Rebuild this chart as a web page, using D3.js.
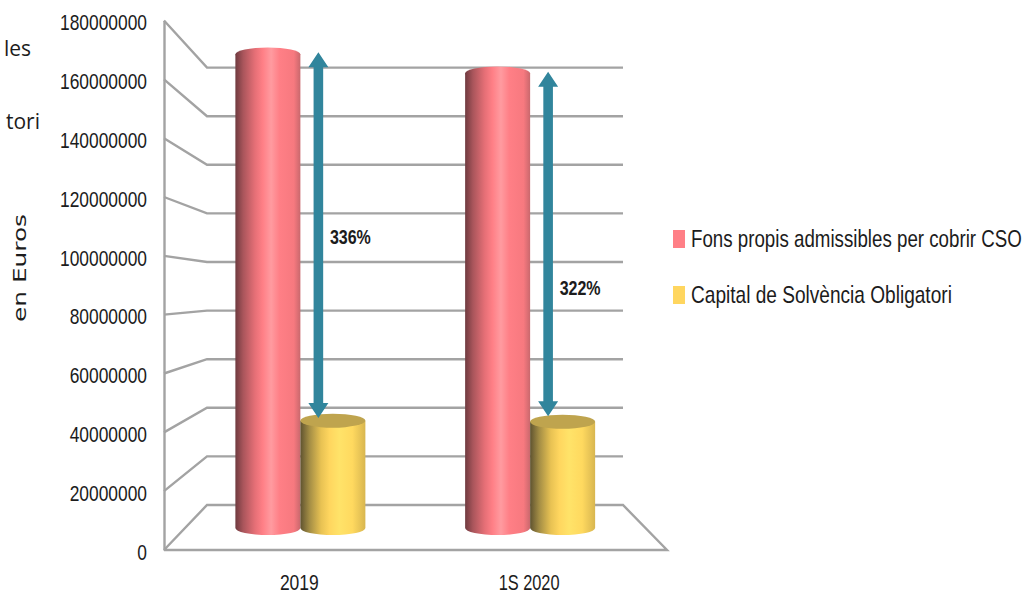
<!DOCTYPE html>
<html>
<head>
<meta charset="utf-8">
<script src="https://cdn.jsdelivr.net/npm/d3@7"></script>
<style>
	html, body { margin: 0; padding: 0; background: #fff; }
	svg { display: block; }
	text { font-family: "Liberation Sans", sans-serif; fill: #1c1c1c; }
</style>
</head>
<body>
<div id="chart"></div>
<script>
var categories = ["2019", "1S 2020"]
var seriesNames = ["Fons propis admissibles per cobrir CSO", "Capital de Solvència Obligatori"]
var fonsPropis = [176500000, 169400000]
var capitalSolvencia = [40000000, 39600000]
var yTicks = [0, 20000000, 40000000, 60000000, 80000000, 100000000, 120000000, 140000000, 160000000, 180000000]

// arrows between the two bars, and the ratio written next to them
var arrowTop = [177300000, 170000000]
var arrowBottom = [41000000, 41600000]
var ratioLabels = ["336%", "322%"]
var ratioAt = [108300000, 89300000]

var w = 1027,
	h = 594,
	cylCap = 7, //vertical radius of the cylinder ellipses
	gridColor = "#a3a3a3"

var svg = d3.select("#chart").append("svg").attr("width", w).attr("height", h)

// the 3d box: front edge of the floor, back wall, and the plane the bars stand in
var yFront = d3.scaleLinear().domain([0, 180000000]).range([550, 20.5])
var yBack = d3.scaleLinear().domain([0, 180000000]).range([505, 67.6])
var yMid = d3.scaleLinear().domain([0, 180000000]).range([528, 45])

var xFrontL = 164, xFrontR = 667, xBackL = 207, xBackR = 623

var xMid = d3.scaleBand().domain(categories).range([185.5, 645])
var xSeries = d3.scaleBand().domain(seriesNames).range([0, 130])
var barOffset = (xMid.bandwidth() - xSeries.range()[1]) / 2

var defs = svg.append("defs")

function cylGradient(id, stops) {
	var g = defs.append("linearGradient").attr("id", id)
	g.selectAll("stop")
		.data(stops)
		.enter()
		.append("stop")
		.attr("offset", function(d) { return d[0] })
		.attr("stop-color", function(d) { return d[1] })
}

cylGradient("redSide", [[0, "#6f3a3f"], [0.12, "#a9555b"], [0.3, "#e56f76"], [0.42, "#ff7f86"], [0.55, "#ff9ba0"], [0.68, "#ff7f86"], [0.9, "#f7797f"], [1, "#c9686d"]])
cylGradient("yellowSide", [[0, "#5f5330"], [0.14, "#a38d45"], [0.32, "#e8c253"], [0.45, "#ffd65f"], [0.6, "#ffe369"], [0.8, "#ffd95f"], [1, "#d8b650"]])

// squeeze a text to the width it has in the picture (no narrow font here)
function fitText(sel, x, y, width) {
	sel.attr("transform", "translate(" + x + "," + y + ")")
	var sx = width / sel.node().getComputedTextLength()
	sel.attr("transform", "translate(" + x + "," + y + ") scale(" + sx + ",1)")
}

// walls and floor
var grid = svg.append("g")
	.attr("fill", "none")
	.attr("stroke", gridColor)
	.attr("stroke-width", 2.4)

grid.selectAll(".wall")
	.data(yTicks.slice(1))
	.enter()
	.append("polyline")
	.attr("class", "wall")
	.attr("points", function(d) {
		return [[xFrontL, yFront(d)], [xBackL, yBack(d)], [xBackR, yBack(d)]].join(" ")
	})

// floor
grid.append("polyline")
	.attr("points", [[xFrontL, yFront(0)], [xBackL, yBack(0)], [xBackR, yBack(0)], [xFrontR, yFront(0)], [xFrontL, yFront(0)]].join(" "))

// y axis, the labels sit a bit under their tick
var yAxis = d3.axisLeft(yFront)
	.tickValues(yTicks)
	.tickFormat(d3.format("d"))
	.tickSize(0)
	.tickPadding(17)

var axisG = svg.append("g")
	.attr("transform", "translate(" + xFrontL + ",0)")
	.call(yAxis)
axisG.select(".domain").attr("stroke", gridColor).attr("stroke-width", 2.4)
axisG.selectAll("text")
	.attr("font-family", null)
	.attr("font-size", 22)
	.attr("dy", "0.42em")
	.attr("fill", "#1c1c1c")
	.attr("textLength", function(d) { return String(d).length * 9.67 })
	.attr("lengthAdjust", "spacingAndGlyphs")

// cylinders
function drawCylinder(x, value, fill, capFill) {
	var rx = xSeries.bandwidth() / 2,
		top = yMid(value),
		bottom = yMid(0)
	svg.append("path")
		.attr("d", "M" + x + "," + top +
			"V" + bottom +
			"A" + rx + "," + cylCap + " 0 0 0 " + (x + 2 * rx) + "," + bottom +
			"V" + top + "Z")
		.attr("fill", fill)
	svg.append("ellipse")
		.attr("cx", x + rx)
		.attr("cy", top)
		.attr("rx", rx)
		.attr("ry", cylCap)
		.attr("fill", capFill)
}

categories.forEach(function(c, i) {
	var x0 = xMid(c) + barOffset
	drawCylinder(x0 + xSeries(seriesNames[0]), fonsPropis[i], "url(#redSide)", "url(#redSide)")
	drawCylinder(x0 + xSeries(seriesNames[1]), capitalSolvencia[i], "url(#yellowSide)", "#bfa44e")
})

// double arrows
var arrowColor = "#31859c"
categories.forEach(function(c, i) {
	var ax = xMid(c) + barOffset + xSeries(seriesNames[1]) + 18,
		t = yMid(arrowTop[i]),
		b = yMid(arrowBottom[i]),
		hw = 10, //half head
		hh = 15,
		sw = 4.8 //half shaft
	svg.append("path")
		.attr("d", d3.line()([
			[ax, t], [ax + hw, t + hh], [ax + sw, t + hh], [ax + sw, b - hh], [ax + hw, b - hh],
			[ax, b], [ax - hw, b - hh], [ax - sw, b - hh], [ax - sw, t + hh], [ax - hw, t + hh]
		]) + "Z")
		.attr("fill", arrowColor)

	svg.append("text")
		.attr("font-size", 20)
		.attr("font-weight", "bold")
		.text(ratioLabels[i])
		.call(fitText, ax + 11.5, yMid(ratioAt[i]) + 7, 41)
})

// category labels
var catWidths = [39, 61]
categories.forEach(function(c, i) {
	svg.append("text")
		.attr("class", "catLabel")
		.attr("font-size", 22)
		.text(c)
		.call(fitText, xMid(c) + xMid.bandwidth() / 2 - 1 - catWidths[i] / 2, 589.5, catWidths[i])
})

// legend
var legendColors = ["#ff7f86", "#ffd65f"]
var legendWidths = [331, 261]
var legendY = d3.scalePoint().domain(seriesNames).range([239, 295])

seriesNames.forEach(function(name, i) {
	svg.append("rect")
		.attr("x", 673)
		.attr("y", legendY(name) - 9)
		.attr("width", 12)
		.attr("height", 18)
		.attr("fill", legendColors[i])
	svg.append("text")
		.attr("font-size", 24)
		.text(name)
		.call(fitText, 691, legendY(name) + 8, legendWidths[i])
})

// what is left of the text cut off by the slide edge, and the axis title
svg.append("text")
	.attr("x", 31)
	.attr("y", 56)
	.attr("text-anchor", "end")
	.attr("font-size", 21)
	.style("font-family", "'Open Sans'")
	.text("les")

svg.append("text")
	.attr("x", 40)
	.attr("y", 129)
	.attr("text-anchor", "end")
	.attr("font-size", 21)
	.style("font-family", "'Open Sans'")
	.text("tori")

svg.append("text")
	.attr("transform", "translate(26,268) rotate(-90)")
	.attr("text-anchor", "middle")
	.attr("font-size", 18)
	.attr("textLength", 108)
	.attr("lengthAdjust", "spacingAndGlyphs")
	.style("font-family", "'DejaVu Sans'")
	.text("en Euros")
</script>
</body>
</html>
